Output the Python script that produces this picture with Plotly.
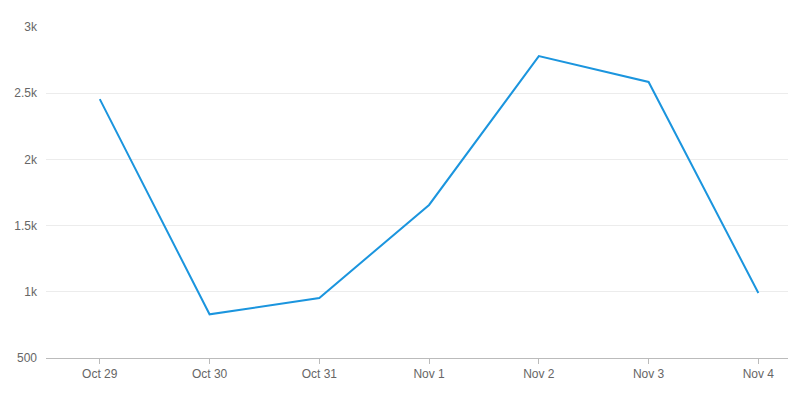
import plotly.graph_objects as go

days = ["Oct 29", "Oct 30", "Oct 31", "Nov 1", "Nov 2", "Nov 3", "Nov 4"]
values = [2455, 830, 953, 1656, 2780, 2585, 991]

fig = go.Figure(go.Scatter(
    x=list(range(len(days))), y=values,
    mode="lines",
    line=dict(color="#1b95de", width=2),
    showlegend=False,
))

fig.update_layout(
    width=788, height=406,
    margin=dict(l=46, r=0, t=27, b=48),
    paper_bgcolor="white", plot_bgcolor="white",
    font=dict(family="Liberation Sans, Arial, sans-serif", size=12, color="#666666"),
    xaxis=dict(
        range=[-0.49, 6.27], automargin=False,
        tickvals=list(range(len(days))), ticktext=days,
        showgrid=False, zeroline=False,
        showline=True, linecolor="#bbbbbb", linewidth=1,
        ticks="outside", ticklen=5, tickcolor="#bbbbbb",
    ),
    yaxis=dict(
        range=[500, 3000], automargin=False,
        tickvals=[500, 1000, 1500, 2000, 2500, 3000],
        ticktext=["500", "1k", "1.5k", "2k", "2.5k", "3k"],
        showgrid=True, gridcolor="#ececec", zeroline=False,
        showline=False, ticks="", ticklabelstandoff=8,
    ),
)

# drop the default page margin so the figure sits at the window corner
fig.write_html("out.html", config={"displayModeBar": False},
               post_script="document.body.style.margin='0';")
